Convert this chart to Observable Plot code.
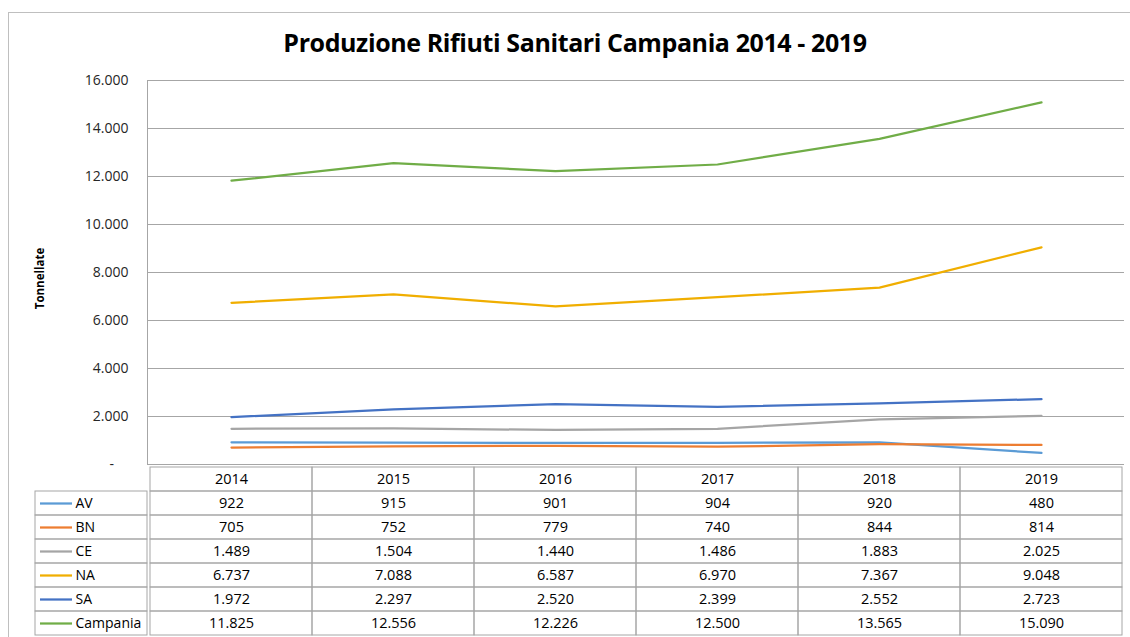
<!DOCTYPE html>
<html><head><meta charset="utf-8">
<script src="https://cdn.jsdelivr.net/npm/d3@7"></script>
<script src="https://cdn.jsdelivr.net/npm/@observablehq/plot@0.6"></script>
<style>
html,body{margin:0;padding:0;background:#fff;}
body{width:1130px;height:637px;overflow:hidden;position:relative;font-family:"Open Sans",sans-serif;}
#border{position:absolute;left:8px;top:12px;width:1140px;height:640px;border:1px solid #bfbfbf;box-sizing:border-box;}
#title{position:absolute;left:0;width:1150px;top:25px;text-align:center;font-weight:bold;font-size:25px;font-family:"Open Sans",sans-serif;color:#000;letter-spacing:-0.4px;}
.pl{position:absolute;left:0;}
#chart{top:0}
#table{top:464px}
#legend{top:464px}
svg{overflow:visible}
</style>
</head><body>
<div id="border"></div>
<div id="title">Produzione Rifiuti Sanitari Campania 2014 - 2019</div>
<div id="chart" class="pl"></div>
<div id="table" class="pl"></div>
<div id="legend" class="pl"></div>
<script>
const years = ["2014","2015","2016","2017","2018","2019"];
const seriesNames = ["AV","BN","CE","NA","SA","Campania"];
const AV = [922,915,901,904,920,480];
const BN = [705,752,779,740,844,814];
const CE = [1489,1504,1440,1486,1883,2025];
const NA = [6737,7088,6587,6970,7367,9048];
const SA = [1972,2297,2520,2399,2552,2723];
const Campania = [11825,12556,12226,12500,13565,15090];
const yTicks = [0,2000,4000,6000,8000,10000,12000,14000,16000];
const colors = ["#5B9BD5","#ED7D31","#A5A5A5","#F0AE00","#4472C4","#70AD47"];
const yAxisTitle = "Tonnellate";

const seriesValues = {AV, BN, CE, NA, SA, Campania};
const it = d3.formatLocale({decimal:",", thousands:".", grouping:[3], currency:["","€"]});
const fmt = it.format(",d");
const tickFmt = d => d === 0 ? "-    " : fmt(d);

const data = [];
for (const s of seriesNames) years.forEach((y,i) => data.push({series:s, year:y, value:seriesValues[s][i]}));

const gridColor = "#a6a6a6";
const font = "Open Sans";

const chart = Plot.plot({
  width:1130, height:480, marginLeft:147, marginRight:6, marginTop:80, marginBottom:16,
  style:{fontFamily:font, fontSize:"14px", color:"#262626", background:"transparent"},
  x:{type:"point", domain:years, padding:0.5, axis:null},
  y:{domain:[0,16000], axis:null},
  color:{domain:seriesNames, range:colors},
  marks:[
    Plot.gridY(yTicks, {stroke:gridColor, strokeOpacity:1}),
    Plot.frame({anchor:"left", stroke:gridColor}),
    Plot.axisY(yTicks, {tickFormat:tickFmt, tickSize:0, tickPadding:19, label:null, fontSize:14, style:{whiteSpace:"pre"}}),
    Plot.text([yAxisTitle], {frameAnchor:"left", rotate:-90, dx:-107, dy:6, textAnchor:"middle", fontWeight:"bold", fontSize:11.5, fill:"#000"}),
    Plot.line(data, {x:"year", y:"value", stroke:"series", strokeWidth:2.25, curve:"linear"})
  ]
});
document.getElementById("chart").append(chart);

const rows = ["", ...seriesNames];
const cells = [];
years.forEach(y => cells.push({year:y, row:"", label:y}));
for (const s of seriesNames) years.forEach((y,i) => cells.push({year:y, row:s, label:fmt(seriesValues[s][i])}));

const table = Plot.plot({
  width:1130, height:174, marginLeft:147, marginRight:6, marginTop:0, marginBottom:0,
  style:{fontFamily:font, fontSize:"15px", color:"#000", background:"transparent"},
  x:{type:"band", domain:years, padding:0, axis:null},
  y:{type:"band", domain:rows, padding:0, axis:null},
  marks:[
    Plot.cell(cells, {x:"year", y:"row", fill:"none", stroke:gridColor, inset:0}),
    Plot.text(cells, {x:"year", y:"row", text:"label", fontSize:14.5, fill:"#000"})
  ]
});
document.getElementById("table").append(table);

const legend = Plot.plot({
  width:147, height:174, marginLeft:35, marginRight:0, marginTop:0, marginBottom:0,
  style:{fontFamily:font, fontSize:"14px", color:"#000", background:"transparent"},
  x:{domain:[0,1], range:[40,72], axis:null},
  y:{type:"band", domain:rows, padding:0, axis:null},
  color:{domain:seriesNames, range:colors},
  marks:[
    Plot.cell(seriesNames, {y:d=>d, fill:"none", stroke:gridColor, inset:0}),
    Plot.ruleY(seriesNames, {y:d=>d, x1:0, x2:1, stroke:d=>d, strokeWidth:2.25}),
    Plot.text(seriesNames, {y:d=>d, frameAnchor:"left", dx:40, textAnchor:"start", text:d=>d, fontSize:14, fill:"#000"})
  ]
});
document.getElementById("legend").append(legend);
</script>
</body></html>
